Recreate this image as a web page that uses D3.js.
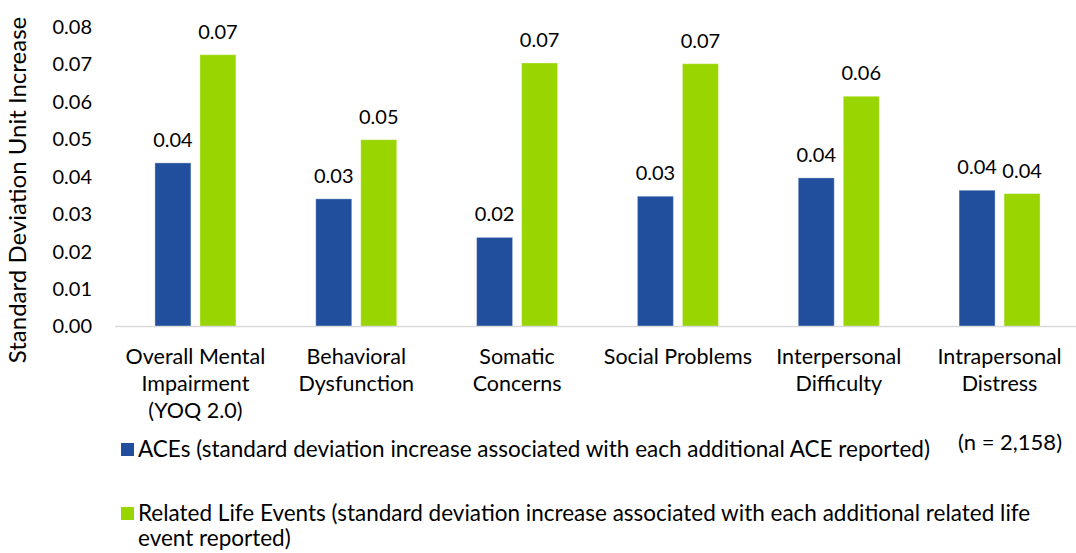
<!DOCTYPE html>
<html>
<head>
<meta charset="utf-8">
<script src="https://cdn.jsdelivr.net/npm/d3@7/dist/d3.min.js"></script>
<style>
  html, body { margin: 0; padding: 0; background: #fff; }
  svg { display: block; }
  text { font-family: "Gill Sans", "Lato", sans-serif; fill: #000; }
</style>
</head>
<body>
<svg id="chart" width="1076" height="553"></svg>
<script>
// Outcome domains (multi-line category labels)
const categories = [
  ["Overall Mental", "Impairment", "(YOQ 2.0)"],
  ["Behavioral", "Dysfunction"],
  ["Somatic", "Concerns"],
  ["Social Problems"],
  ["Interpersonal", "Difficulty"],
  ["Intrapersonal", "Distress"]
];

// Standard deviation unit increase per additional event
const aceValues  = [0.0437, 0.0341, 0.0238, 0.0348, 0.0397, 0.0364];
const lifeValues = [0.0726, 0.0499, 0.0704, 0.0702, 0.0615, 0.0355];

const seriesNames = ["ACEs", "Related Life Events"];
const seriesColors = ["#214f9d", "#99d500"];
const yTicks = [0, 0.01, 0.02, 0.03, 0.04, 0.05, 0.06, 0.07, 0.08];

const legendLabels = [
  ["ACEs (standard deviation increase associated with each additional ACE reported)"],
  ["Related Life Events (standard deviation increase associated with each additional related life",
   "event reported)"]
];
const sampleNote = "(n = 2,158)";
const yTitle = "Standard Deviation Unit Increase";

const svg = d3.select("#chart");
const left = 115, right = 1080, baseY = 326.5, topY = 27;

const keys = categories.map(c => c.join(" "));
const x0 = d3.scaleBand().domain(keys).range([left, right]).padding(0);
const groupW = 81;
const x1 = d3.scaleBand().domain(seriesNames)
  .range([x0.bandwidth() / 2 - groupW / 2, x0.bandwidth() / 2 + groupW / 2])
  .paddingInner(0.2).paddingOuter(0);
const y = d3.scaleLinear().domain([0, 0.08]).range([baseY, topY]);

// Y axis: labels only
const yAxis = svg.append("g")
  .attr("transform", `translate(${left},0)`)
  .call(d3.axisLeft(y).tickValues(yTicks).tickFormat(d3.format(".2f")).tickSize(0).tickPadding(23));
yAxis.select(".domain").remove();
yAxis.selectAll("text")
  .style("font-family", '"Gill Sans", "Lato", sans-serif')
  .style("font-size", "20px")
  .attr("fill", "#000");

// Y axis title
svg.append("text")
  .attr("transform", `translate(26,190) rotate(-90)`)
  .attr("text-anchor", "middle")
  .style("font-size", "24px")
  .text(yTitle);

// Bars
const rows = keys.map((k, i) => ({ key: k, vals: [aceValues[i], lifeValues[i]] }));
const groups = svg.append("g").selectAll("g")
  .data(rows).join("g")
  .attr("transform", d => `translate(${x0(d.key)},0)`);

groups.selectAll("rect")
  .data(d => d.vals.map((v, j) => ({ s: seriesNames[j], v, j })))
  .join("rect")
  .attr("x", d => x1(d.s))
  .attr("width", x1.bandwidth())
  .attr("y", d => y(d.v))
  .attr("height", d => baseY - y(d.v))
  .attr("fill", d => seriesColors[d.j])
  .attr("stroke", "#ffffff")
  .attr("stroke-opacity", 0.35)
  .attr("stroke-width", 1);

groups.selectAll("text.val")
  .data(d => d.vals.map((v, j) => ({ s: seriesNames[j], v, j })))
  .join("text")
  .attr("class", "val")
  .attr("x", d => x1(d.s) + x1.bandwidth() / 2)
  .attr("y", d => y(d.v) - 16)
  .attr("text-anchor", "middle")
  .style("font-size", "20px")
  .text(d => d.v.toFixed(2));

// Baseline
svg.append("line")
  .attr("x1", left).attr("x2", 1076)
  .attr("y1", baseY).attr("y2", baseY)
  .attr("stroke", "#d9d9d9").attr("stroke-width", 1.5);

// Category labels
const catG = svg.append("g");
categories.forEach((lines, i) => {
  const cx = x0(keys[i]) + x0.bandwidth() / 2;
  const t = catG.append("text")
    .attr("x", cx)
    .attr("y", 364)
    .attr("text-anchor", "middle")
    .style("font-size", "21.5px");
  lines.forEach((ln, k) => {
    t.append("tspan")
      .attr("x", cx)
      .attr("dy", k === 0 ? 0 : 27)
      .text(ln);
  });
});

// Legend
const legendRows = [457, 521];
legendLabels.forEach((lines, i) => {
  svg.append("rect")
    .attr("x", 121).attr("y", legendRows[i] - 14)
    .attr("width", 13).attr("height", 13)
    .attr("fill", seriesColors[i]);
  const t = svg.append("text")
    .attr("x", 138).attr("y", legendRows[i])
    .style("font-size", "22.5px");
  lines.forEach((ln, k) => {
    t.append("tspan")
      .attr("x", 138)
      .attr("dy", k === 0 ? 0 : 25)
      .text(ln);
  });
});

svg.append("text")
  .attr("x", 1062).attr("y", 450)
  .attr("text-anchor", "end")
  .style("font-size", "22px")
  .text(sampleNote);
</script>
</body>
</html>
